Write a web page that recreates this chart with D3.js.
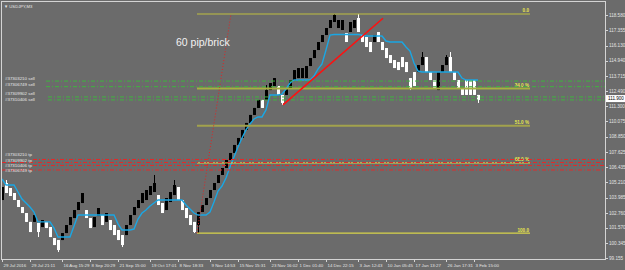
<!DOCTYPE html>
<html>
<head>
<meta charset="utf-8">
<script src="https://cdn.jsdelivr.net/npm/d3@7"></script>
<style>
html, body { margin: 0; padding: 0; background: #6b6b6b; }
svg { display: block; font-family: "Liberation Sans", Arial, sans-serif; }
</style>
</head>
<body>
<svg id="chart" width="625" height="270"></svg>
<script>
// renko bricks, 60 pip each (USDJPY, M3 offline chart)
var opens = [103.79,105.15,104.75,104.35,103.79,103.23,102.75,102.04,102.04,101.96,
  101.63,102.04,101.63,100.75,100.59,100.59,101.15,101.79,102.35,102.99,
  103.55,102.99,102.35,101.63,102.51,102.59,102.04,102.19,101.79,101.39,
  100.99,100.99,101.79,102.59,103.15,103.55,103.79,104.19,104.43,104.19,
  103.55,102.99,103.63,104.19,104.83,103.79,103.15,102.59,102.04,101.79,
  102.83,103.39,103.95,104.59,105.15,105.79,106.35,106.99,107.55,108.19,
  108.75,109.39,109.95,110.59,111.15,111.79,111.79,112.58,112.90,112.90,
  112.19,112.19,112.74,113.38,113.54,113.54,113.54,114.50,115.14,115.78,
  116.42,116.98,117.54,118.02,117.54,117.38,117.14,117.22,117.54,118.34,
  116.98,116.82,116.42,116.42,117.22,116.42,115.94,115.38,114.98,114.82,
  115.22,114.82,113.54,114.02,114.02,114.58,115.22,114.02,113.38,112.58,
  114.02,114.58,115.22,114.02,113.38,112.74,113.38,113.38,113.38,112.19];
var closes = [104.83,104.35,104.11,103.79,103.23,102.75,102.04,101.23,102.59,101.23,
  102.19,101.55,100.83,100.19,99.79,101.15,101.79,102.43,102.99,103.63,
  104.35,102.35,101.55,102.43,103.15,101.79,102.75,101.39,100.99,100.59,
  100.19,101.79,102.59,103.23,103.79,104.35,104.59,104.91,105.15,103.39,
  102.75,103.95,104.43,104.99,103.79,102.99,102.35,101.79,101.23,102.83,
  103.39,103.95,104.59,105.15,105.79,106.35,106.99,107.55,108.19,108.75,
  109.39,109.95,110.59,111.15,111.79,111.15,112.58,113.14,113.54,112.19,
  111.55,112.74,113.38,114.18,114.34,114.34,114.50,115.14,115.78,116.42,
  116.98,117.54,118.18,118.58,118.18,118.18,116.42,118.02,118.18,117.22,
  116.42,116.02,115.62,116.98,116.42,115.78,115.14,114.74,114.34,114.18,
  114.42,114.02,112.74,112.90,114.58,115.22,114.02,113.38,112.74,114.02,
  114.58,115.22,114.02,113.38,112.74,112.19,112.19,112.19,112.19,111.79];
var highs = [104.83,105.39,104.75,104.35,103.79,103.23,102.75,102.04,102.59,101.96,
  102.19,102.04,101.63,100.75,100.59,101.15,101.79,102.43,102.99,103.63,
  104.35,102.99,102.35,102.43,103.15,102.59,102.75,102.19,101.79,101.39,
  100.99,101.79,102.59,103.23,103.79,104.35,104.59,104.91,105.79,104.19,
  103.55,103.95,104.43,105.39,104.83,103.79,103.15,102.59,102.04,102.83,
  103.39,103.95,104.59,105.15,105.79,106.35,106.99,107.55,108.19,108.75,
  109.39,109.95,110.59,111.15,111.79,111.79,112.98,113.14,113.54,112.90,
  112.19,112.74,113.38,114.18,114.34,114.34,114.50,115.14,115.78,116.42,
  116.98,117.54,118.18,118.66,118.18,118.18,117.14,118.02,118.18,118.66,
  116.98,116.82,116.42,116.98,117.22,116.42,115.94,115.38,114.98,114.82,
  115.22,114.82,113.54,114.02,114.58,115.62,115.22,114.02,113.38,114.02,
  114.58,115.38,115.62,114.02,113.38,112.74,113.38,113.38,113.38,112.19];
var lows = [103.79,104.35,104.11,103.79,103.23,102.75,102.04,101.23,102.04,100.83,
  101.63,101.55,100.83,100.19,99.63,100.59,101.15,101.79,102.35,102.99,
  103.55,102.35,101.55,101.63,102.51,101.79,102.04,101.39,100.99,100.59,
  100.03,100.99,101.79,102.59,103.15,103.55,103.79,104.19,104.43,103.39,
  102.75,102.99,103.63,104.19,103.79,102.99,102.35,101.79,101.15,101.15,
  102.83,103.39,103.95,104.59,105.15,105.79,106.35,106.99,107.55,108.19,
  108.75,109.39,109.95,110.59,111.15,111.15,111.79,112.58,112.90,112.19,
  111.39,112.19,112.74,113.38,113.54,113.54,113.54,114.50,115.14,115.78,
  116.42,116.98,117.54,118.02,117.54,117.38,116.42,117.22,117.54,117.22,
  116.42,116.02,115.62,116.42,116.42,115.78,115.14,114.74,114.34,114.18,
  114.42,114.02,112.58,112.90,114.02,114.58,114.02,113.38,112.74,112.58,
  114.02,114.58,114.02,113.38,112.74,112.19,112.19,112.19,112.19,111.55];
// blue trailing line, one value per brick
var trail = [105.47,104.99,104.99,104.99,104.43,103.87,103.55,103.23,102.83,102.04,
  102.04,102.04,102.04,101.55,100.83,100.83,100.83,100.83,101.71,102.59,
  102.59,102.59,102.59,102.59,102.59,102.59,102.59,102.59,102.59,101.88,
  101.39,101.39,101.39,101.47,102.27,102.75,102.99,103.31,103.55,103.79,
  103.79,103.79,103.79,103.79,103.79,103.79,103.39,103.07,102.75,102.59,
  102.59,102.59,102.83,103.63,104.51,104.91,105.55,106.43,107.23,108.03,
  108.75,109.39,109.87,110.27,110.43,110.43,110.99,112.19,112.19,112.19,
  112.26,112.66,113.14,113.38,113.38,113.38,113.38,113.38,113.70,114.26,
  114.66,115.78,116.98,117.02,117.02,117.02,117.02,117.02,117.02,117.02,
  116.98,116.90,116.90,116.90,116.90,116.90,116.50,116.42,116.42,116.42,
  116.42,116.02,115.70,114.74,114.10,114.02,114.02,114.02,114.02,114.02,
  114.02,114.02,114.02,114.02,114.02,113.54,113.38,113.38,113.38,113.38];

var timeBars = [0,7,15,22,29,37,44,52,59,67,74,81,89,96,103,111,118];
var timeLabels = ["29 Jul 2016","29 Jul 21:11","16 Aug 15:29","8 Sep 20:29","21 Sep 15:00",
  "19 Oct 17:01","8 Nov 18:33","9 Nov 14:53","15 Nov 15:31","23 Nov 16:02","1 Dec 01:40",
  "14 Dec 22:15","3 Jan 12:43","10 Jan 05:45","17 Jan 13:27","26 Jan 17:31","3 Feb 15:00"];
var priceTicks = [118.580,117.355,116.130,114.940,113.715,112.490,111.300,110.075,108.850,
  107.625,106.435,105.210,103.985,102.760,101.570,100.345,99.155];
var lastPrice = 111.900;

// fibonacci object: anchor bars/prices and levels
var fibBars = [48.75, 57.25, 132];
var fibPrices = [101.15, 118.66];
var fibLevels = [0, 34, 51, 68, 100];
var fibLabels = ["0.0", "34.0 %", "51.0 %", "68.0 %", "100.0"];

// red trend line
var trendBars = [70.25, 95.25];
var trendPrices = [111.39, 118.32];

// open orders
var sellPrices = [113.30, 112.85, 112.03, 111.79];
var sellLabels = ["#37303210 sell", "#37306749 sell", "#37309902 sell", "#37310406 sell"];
var tpPrices = [107.03, 106.79, 106.55, 106.19];
var tpLabels = ["#37303210 tp", "#37309902 tp", "#37310406 tp", "#37306749 tp"];

/***************************绘图******************************/

var svg = d3.select("#chart");
var L = 2, T = 2, R = 605, B = 259;

var x = d3.scaleLinear().domain([0, 119]).range([2, 478]);
var y = d3.scaleLinear().domain([99.155, 118.58]).range([258, 15]);

svg.append("rect").attr("width", 625).attr("height", 270).attr("fill", "#6b6b6b");

svg.append("clipPath").attr("id", "plot")
  .append("rect").attr("x", L).attr("y", T).attr("width", R - L).attr("height", B - T);
var g = svg.append("g").attr("clip-path", "url(#plot)");

// candles
var bars = d3.range(opens.length);
var up = function (i) { return closes[i] >= opens[i]; };

g.append("g").selectAll("line").data(bars).enter().append("line")
  .attr("x1", function (i) { return Math.round(x(i)) + 0.5; })
  .attr("x2", function (i) { return Math.round(x(i)) + 0.5; })
  .attr("y1", function (i) { return y(highs[i]); })
  .attr("y2", function (i) { return y(lows[i]); })
  .attr("stroke", function (i) { return up(i) ? "#000" : "#fff"; })
  .attr("stroke-width", 1);

g.append("g").selectAll("rect").data(bars).enter().append("rect")
  .attr("x", function (i) { return Math.round(x(i)) - 1; })
  .attr("width", 3)
  .attr("y", function (i) { return y(Math.max(opens[i], closes[i])); })
  .attr("height", function (i) { return Math.max(1, Math.abs(y(opens[i]) - y(closes[i]))); })
  .attr("fill", function (i) { return up(i) ? "#000" : "#fff"; });

// blue indicator
g.append("path").datum(bars)
  .attr("d", d3.line().x(function (i) { return x(i); }).y(function (i) { return y(trail[i]); }))
  .attr("fill", "none").attr("stroke", "#1aa7e4").attr("stroke-width", 1.4);

// fibonacci
var fibStyle = [
  { c: "#c0c040", w: 1.2 }, { c: "#a6b040", w: 2 }, { c: "#a2a24c", w: 2 },
  { c: "#e2e24a", w: 1 }, { c: "#d8d44a", w: 1.2 }];
var fibHi = fibPrices[1], fibLo = fibPrices[0];
fibLevels.forEach(function (lv, k) {
  var p = fibHi - (fibHi - fibLo) * lv / 100;
  g.append("line")
    .attr("x1", x(fibBars[0])).attr("x2", x(fibBars[2]))
    .attr("y1", y(p)).attr("y2", y(p))
    .attr("stroke", fibStyle[k].c).attr("stroke-width", fibStyle[k].w);
  g.append("text").attr("x", x(fibBars[2]) - 1).attr("y", y(p) - 1.5)
    .attr("text-anchor", "end").attr("font-size", 4.6).attr("font-weight", "bold")
    .attr("fill", "#e8e84c").text(fibLabels[k]);
});
g.append("line")
  .attr("x1", x(fibBars[0])).attr("y1", y(fibLo))
  .attr("x2", x(fibBars[1])).attr("y2", y(fibHi))
  .attr("stroke", "#e02424").attr("stroke-width", 1).attr("stroke-dasharray", "1,2");

// order lines, labels stacked at the left so they stay readable
function orderLines(prices, labels, color, starts, labelY) {
  prices.forEach(function (p, k) {
    g.append("line").attr("x1", starts[k]).attr("x2", R)
      .attr("y1", y(p)).attr("y2", y(p))
      .attr("stroke", color).attr("stroke-width", 1).attr("stroke-dasharray", "4,2,1,2");
    g.append("text").attr("x", 5).attr("y", labelY[k])
      .attr("font-size", 4.4).attr("fill", "#e8e8e8").text(labels[k]);
  });
}
orderLines(sellPrices, sellLabels, "#3fb43f", [46, 46, 48, 48], [79.5, 85.5, 95, 100.8]);
orderLines(tpPrices, tpLabels, "#e42a2a", [33, 2, 33, 2], [156.3, 161.6, 166.9, 172.2]);

// red trend line
g.append("line")
  .attr("x1", x(trendBars[0])).attr("y1", y(trendPrices[0]))
  .attr("x2", x(trendBars[1])).attr("y2", y(trendPrices[1]))
  .attr("stroke", "#ff1010").attr("stroke-width", 1.6);

g.append("text").attr("x", 176).attr("y", 46).attr("font-size", 10.5)
  .attr("fill", "#f2f2f2").text("60 pip/brick");

g.append("text").attr("x", 4).attr("y", 7.5).attr("font-size", 4.2)
  .attr("fill", "#e8e8e8").text("\u25BC USDJPY,M3");

// frame + axes
svg.append("rect").attr("x", L - 0.5).attr("y", T - 0.5).attr("width", R - L + 1).attr("height", B - T + 1)
  .attr("fill", "none").attr("stroke", "#d4d4d4").attr("stroke-width", 1);

var ya = svg.append("g");
priceTicks.forEach(function (p) {
  ya.append("line").attr("x1", R).attr("x2", R + 3).attr("y1", Math.round(y(p)) + 0.5).attr("y2", Math.round(y(p)) + 0.5)
    .attr("stroke", "#d4d4d4");
  ya.append("text").attr("x", R + 4).attr("y", y(p) + 1.7).attr("font-size", 4.6)
    .attr("fill", "#e4e4e4").text(d3.format(".3f")(p));
});
ya.append("rect").attr("x", R + 1).attr("y", y(lastPrice) - 3.5).attr("width", 19).attr("height", 7)
  .attr("fill", "#fff");
ya.append("text").attr("x", R + 3).attr("y", y(lastPrice) + 1.7).attr("font-size", 4.6)
  .attr("fill", "#000").text(d3.format(".3f")(lastPrice));

var xa = svg.append("g");
timeBars.forEach(function (b, k) {
  var px = Math.round(x(b)) + 0.5;
  xa.append("line").attr("x1", px).attr("x2", px).attr("y1", B).attr("y2", B + 3).attr("stroke", "#d4d4d4");
  xa.append("text").attr("x", px + 1).attr("y", B + 7.5).attr("font-size", 4.4)
    .attr("fill", "#e4e4e4").text(timeLabels[k]);
});
</script>
</body>
</html>
